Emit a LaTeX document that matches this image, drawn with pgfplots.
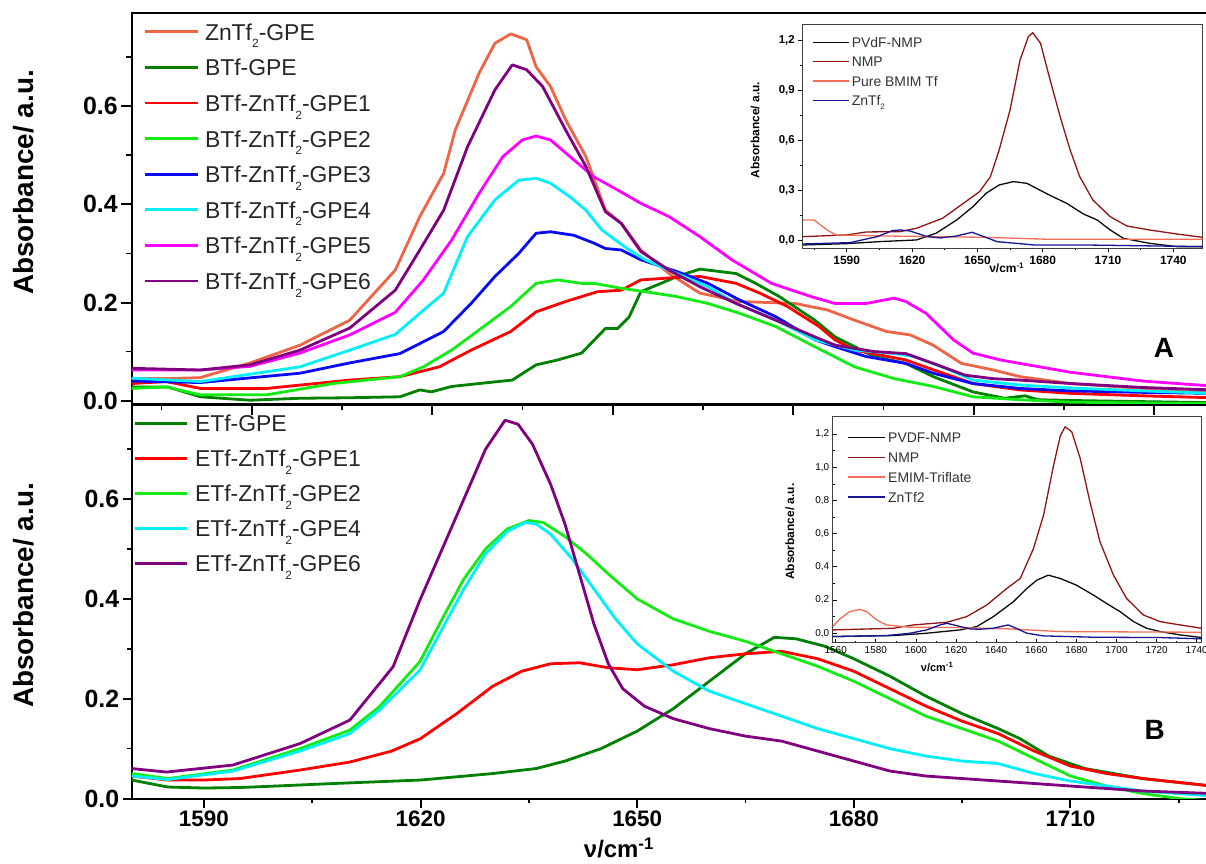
\documentclass[border=0pt]{standalone}
\usepackage{fontspec}
\setmainfont{Liberation Sans}
\usepackage{pgfplots}
\pgfplotsset{compat=1.18}
\definecolor{cOr}{RGB}{238,100,68}
\definecolor{cDg}{RGB}{0,128,0}
\definecolor{cRd}{RGB}{255,0,0}
\definecolor{cLg}{RGB}{20,235,20}
\definecolor{cBl}{RGB}{10,10,245}
\definecolor{cCy}{RGB}{0,240,250}
\definecolor{cMg}{RGB}{255,0,255}
\definecolor{cPu}{RGB}{128,0,128}
\definecolor{iBk}{RGB}{10,10,10}
\definecolor{iNm}{RGB}{145,20,20}
\definecolor{iSa}{RGB}{240,110,85}
\definecolor{iNv}{RGB}{20,20,150}
\newcommand\sub[1]{\raisebox{-0.33em}{\fontsize{12}{12}\selectfont #1}}
\newcommand\isub[1]{\raisebox{-0.3em}{\fontsize{8}{8}\selectfont #1}}
\pgfplotsset{
  /pgf/number format/1000 sep={},
  mainax/.style={
    scale only axis, width=1080.3bp, xmin=1580, xmax=1729.6,
    axis line style={line width=2bp},
    tick align=outside, tick pos=left,
    major tick style={line width=2bp, black},
    minor tick style={line width=1.6bp, black},
    ytick={0,0.2,0.4,0.6}, minor ytick={0.1,0.3,0.5,0.7},
    /pgf/number format/assume math mode=true,
    yticklabel style={font=\bfseries\fontsize{25}{25}\selectfont,
      /pgf/number format/fixed, /pgf/number format/fixed zerofill,
      /pgf/number format/precision=1},
    xticklabel style={font=\bfseries\fontsize{22.5}{22.5}\selectfont},
    every axis plot/.append style={line width=2.8bp, line join=round, no markers},
    legend cell align=left,
    ylabel={Absorbance/ a.u.},
  },
  inax/.style={
    scale only axis, axis background/.style={fill=white},
    axis line style={line width=0.8bp, black!75},
    tick pos=left,
    major tick length=4bp, minor tick length=2bp,
    major tick style={line width=0.8bp, black},
    minor tick style={line width=0.6bp, black},
    /pgf/number format/assume math mode=true,
    every axis plot/.append style={line width=1.3bp, line join=round, no markers},
    legend cell align=left,
  }
}
\begin{document}
\begin{tikzpicture}
\useasboundingbox (0bp,0bp) rectangle (1206bp,864bp);
% ---------------- Panel A ----------------
\begin{axis}[mainax,
  at={(131.7bp,459.5bp)}, anchor=south west, height=391.5bp,
  ymin=-0.0077, ymax=0.7896,
  xtick={1596.6,1621.6,1646.6,1671.6,1696.6,1721.6},
  minor xtick={1584.1,1609.1,1634.1,1659.1,1684.1,1709.1},
  xticklabels={},
  major tick length=10.5bp, minor tick length=6bp,
  ylabel style={font=\bfseries\fontsize{28}{28}\selectfont, at={(axis description cs:-0.0997,0.567)}, anchor=center},
  legend style={at={(axis description cs:0.01046,0.9793)}, anchor=north west, draw=none, fill=none,
    inner sep=0pt, font=\fontsize{23}{23}\selectfont, text=black!85, row sep=8.6bp, column sep=4bp,
    nodes={inner sep=2bp, text height=17bp, text depth=6bp}},
  legend image code/.code={\draw[#1, line width=2.8bp] (0bp,2.9bp) -- (53bp,2.9bp);},
]
\addplot[cOr] coordinates {(1580,0.045)(1585,0.045)(1589.5,0.047)(1596.4,0.077)(1603.3,0.113)(1610.2,0.164)(1616.5,0.266)(1619.9,0.375)(1623.2,0.463)(1624.8,0.551)(1628.1,0.667)(1630.3,0.728)(1632.5,0.747)(1634.7,0.735)(1636,0.68)(1638,0.64)(1640.1,0.572)(1642.9,0.497)(1645.6,0.388)(1647.8,0.361)(1650.5,0.307)(1654.4,0.259)(1658.7,0.219)(1664.2,0.202)(1671.9,0.198)(1676.3,0.185)(1680.1,0.164)(1684.5,0.141)(1687.8,0.134)(1691,0.113)(1694.9,0.076)(1699.2,0.063)(1703,0.049)(1710,0.035)(1720,0.025)(1729.6,0.018)};
\addlegendentry{ZnTf\sub{2}-GPE}
\addplot[cDg] coordinates {(1580,0.028)(1585,0.028)(1589.5,0.008)(1596.4,0.001)(1603.3,0.005)(1610,0.006)(1617.15,0.008)(1619.9,0.022)(1621.5,0.018)(1624.3,0.029)(1628.1,0.035)(1632.7,0.042)(1636,0.073)(1639,0.083)(1642.3,0.097)(1645.6,0.147)(1647.3,0.147)(1648.9,0.171)(1650.5,0.222)(1653.3,0.239)(1655.5,0.253)(1658.7,0.268)(1663.7,0.259)(1666.4,0.239)(1669.7,0.212)(1674.6,0.164)(1677.4,0.13)(1682.8,0.09)(1687.2,0.076)(1691,0.049)(1696.5,0.018)(1700.9,0.005)(1703.7,0.01)(1705.5,0.002)(1712,0.0)(1729.6,-0.004)};
\addlegendentry{BTf-GPE}
\addplot[cRd] coordinates {(1580,0.035)(1584.8,0.039)(1589.5,0.025)(1598.7,0.025)(1610.2,0.042)(1617.15,0.049)(1622.6,0.069)(1627,0.103)(1632.5,0.141)(1636,0.181)(1640.1,0.202)(1644.5,0.222)(1647.8,0.225)(1650.5,0.246)(1655.5,0.251)(1658.7,0.253)(1663.7,0.239)(1667,0.219)(1670.8,0.192)(1675.2,0.151)(1677.4,0.124)(1680.1,0.103)(1687.2,0.083)(1691,0.063)(1696.5,0.035)(1703,0.022)(1710,0.015)(1720,0.01)(1729.6,0.006)};
\addlegendentry{BTf-ZnTf\sub{2}-GPE1}
\addplot[cLg] coordinates {(1580,0.025)(1584.8,0.028)(1589.5,0.012)(1598.7,0.012)(1607.9,0.035)(1617.15,0.049)(1620.4,0.069)(1624.3,0.103)(1628.1,0.144)(1632.5,0.192)(1636,0.239)(1639,0.246)(1642.3,0.239)(1644,0.239)(1647.8,0.229)(1651.1,0.222)(1655.5,0.212)(1659.8,0.198)(1664.2,0.178)(1669.2,0.151)(1674.6,0.11)(1680.1,0.069)(1685.6,0.045)(1691,0.029)(1696.5,0.008)(1703,0.002)(1710,-0.003)(1729.6,-0.006)};
\addlegendentry{BTf-ZnTf\sub{2}-GPE2}
\addplot[cBl] coordinates {(1580,0.04)(1589.5,0.037)(1603.3,0.056)(1610.2,0.077)(1617.15,0.096)(1623.2,0.141)(1627,0.198)(1630.3,0.253)(1633.6,0.3)(1636,0.341)(1638,0.344)(1641.2,0.337)(1644,0.321)(1645.6,0.31)(1647.8,0.307)(1650.5,0.287)(1655.5,0.263)(1659.8,0.239)(1664.2,0.205)(1669.2,0.171)(1674.6,0.124)(1677.4,0.11)(1681.7,0.09)(1687.2,0.076)(1691,0.056)(1696.5,0.035)(1703,0.025)(1710,0.02)(1720,0.017)(1729.6,0.015)};
\addlegendentry{BTf-ZnTf\sub{2}-GPE3}
\addplot[cCy] coordinates {(1580,0.046)(1589.5,0.039)(1603.3,0.069)(1610.2,0.103)(1616.5,0.135)(1619.9,0.178)(1623.2,0.219)(1626.5,0.334)(1630.3,0.409)(1633.6,0.449)(1636,0.453)(1638,0.443)(1640.7,0.415)(1642.9,0.388)(1645.1,0.348)(1647,0.327)(1648.9,0.307)(1651.1,0.287)(1655.5,0.259)(1659.8,0.232)(1663.7,0.198)(1669.2,0.164)(1674.6,0.124)(1680.1,0.103)(1685.6,0.096)(1688.3,0.09)(1692.7,0.066)(1696.5,0.042)(1703,0.032)(1710,0.026)(1720,0.02)(1729.6,0.015)};
\addlegendentry{BTf-ZnTf\sub{2}-GPE4}
\addplot[cMg] coordinates {(1580,0.0625)(1589.5,0.0625)(1596.4,0.07)(1603.3,0.097)(1610.2,0.134)(1616.5,0.18)(1620.4,0.246)(1624.3,0.327)(1628.1,0.422)(1631.4,0.497)(1634.1,0.531)(1636,0.539)(1638,0.531)(1640.7,0.497)(1644,0.456)(1647.3,0.429)(1650.5,0.402)(1654.4,0.375)(1658.7,0.334)(1663.1,0.287)(1668.6,0.239)(1674.1,0.212)(1677.4,0.198)(1681.7,0.198)(1685.6,0.209)(1687.2,0.202)(1690,0.178)(1693.8,0.124)(1696.5,0.097)(1700.3,0.083)(1703,0.076)(1710,0.058)(1720,0.04)(1729.6,0.03)};
\addlegendentry{BTf-ZnTf\sub{2}-GPE5}
\addplot[cPu] coordinates {(1580,0.066)(1589.5,0.0625)(1596.4,0.073)(1603.3,0.103)(1610.2,0.148)(1616.5,0.225)(1619.9,0.307)(1623.2,0.388)(1626.5,0.517)(1630.3,0.633)(1632.7,0.684)(1634.7,0.674)(1636.9,0.64)(1640.1,0.551)(1642.9,0.477)(1645.6,0.385)(1647.8,0.361)(1650.5,0.304)(1654.4,0.266)(1658.7,0.232)(1663.7,0.198)(1669.2,0.164)(1674.6,0.13)(1677.4,0.113)(1682.8,0.1)(1687.2,0.096)(1691,0.076)(1695.4,0.052)(1699.2,0.045)(1703,0.042)(1710,0.035)(1720,0.027)(1729.6,0.022)};
\addlegendentry{BTf-ZnTf\sub{2}-GPE6}
\node[font=\bfseries\fontsize{28}{28}\selectfont] at (axis description cs:0.9556,0.1443) {A};
\end{axis}
% ---------------- Panel B ----------------
\begin{axis}[mainax,
  at={(131.7bp,65.5bp)}, anchor=south west, height=393.5bp,
  ymin=0, ymax=0.7885,
  xtick={1590,1620,1650,1680,1710},
  minor xtick={1605,1635,1665,1695,1725},
  major tick length=9bp, minor tick length=4.5bp,
  xlabel={\bfseries ν/cm\textsuperscript{-1}},
  xlabel style={font=\fontsize{24}{24}\selectfont, at={(axis description cs:0.451,-0.1512)}, anchor=base},
  ylabel style={font=\bfseries\fontsize{28}{28}\selectfont, at={(axis description cs:-0.0997,0.516)}, anchor=center},
  legend style={at={(axis description cs:0.0012,0.9804)}, anchor=north west, draw=none, fill=none,
    inner sep=0pt, font=\fontsize{23}{23}\selectfont, text=black!85, row sep=8bp, column sep=5bp,
    nodes={inner sep=2bp, text height=17bp, text depth=6bp}},
  legend image code/.code={\draw[#1, line width=2.8bp] (0bp,2.9bp) -- (52bp,2.9bp);},
]
\addplot[cDg] coordinates {(1580,0.037)(1585,0.023)(1590,0.021)(1595,0.022)(1600,0.025)(1607.9,0.03)(1620,0.037)(1630,0.05)(1636,0.06)(1640,0.075)(1645,0.1)(1650,0.135)(1655,0.18)(1660,0.235)(1665,0.29)(1669,0.323)(1672,0.32)(1676,0.305)(1680,0.28)(1685,0.245)(1690,0.205)(1695,0.17)(1700,0.14)(1703,0.12)(1707,0.085)(1712,0.06)(1720,0.04)(1729.6,0.025)};
\addlegendentry{ETf-GPE}
\addplot[cRd] coordinates {(1580,0.045)(1585,0.037)(1590,0.037)(1595,0.04)(1603.3,0.057)(1610.2,0.073)(1616,0.095)(1620,0.12)(1625,0.17)(1630,0.225)(1634,0.255)(1638,0.27)(1642,0.272)(1646,0.262)(1650,0.258)(1655,0.268)(1660,0.282)(1665,0.29)(1670,0.295)(1675,0.28)(1680,0.255)(1685,0.22)(1690,0.185)(1695,0.155)(1700,0.13)(1705,0.095)(1710,0.065)(1715,0.05)(1720,0.04)(1729.6,0.025)};
\addlegendentry{ETf-ZnTf\sub{2}-GPE1}
\addplot[cLg] coordinates {(1580,0.05)(1585,0.04)(1594,0.057)(1603.3,0.1)(1610.2,0.137)(1614.3,0.184)(1619.9,0.274)(1623,0.36)(1626,0.44)(1629,0.5)(1632,0.54)(1635,0.557)(1637,0.553)(1640,0.525)(1643,0.49)(1646,0.45)(1650,0.4)(1655,0.36)(1660,0.335)(1665,0.315)(1670,0.29)(1675,0.265)(1680,0.235)(1685,0.2)(1690,0.165)(1695,0.14)(1700,0.115)(1705,0.08)(1710,0.045)(1715,0.025)(1720,0.01)(1725,0.0)(1729.6,-0.005)};
\addlegendentry{ETf-ZnTf\sub{2}-GPE2}
\addplot[cCy] coordinates {(1580,0.045)(1585,0.038)(1594,0.055)(1603.3,0.095)(1610.2,0.13)(1614.3,0.177)(1619.9,0.257)(1623,0.34)(1626,0.42)(1629,0.49)(1632,0.535)(1634.5,0.553)(1636,0.55)(1638,0.53)(1641,0.48)(1644,0.42)(1647,0.36)(1650,0.31)(1655,0.255)(1660,0.215)(1665,0.19)(1670,0.165)(1675,0.14)(1680,0.12)(1685,0.1)(1690,0.085)(1695,0.075)(1700,0.07)(1705,0.05)(1710,0.035)(1715,0.025)(1720,0.015)(1729.6,0.005)};
\addlegendentry{ETf-ZnTf\sub{2}-GPE4}
\addplot[cPu] coordinates {(1580,0.06)(1584.8,0.053)(1594,0.067)(1603.3,0.11)(1610.2,0.157)(1616.2,0.264)(1619.9,0.397)(1623,0.5)(1626,0.6)(1629,0.7)(1631.7,0.758)(1633.5,0.75)(1635.5,0.71)(1638,0.63)(1640,0.55)(1642,0.45)(1644,0.35)(1646,0.27)(1648,0.22)(1651,0.185)(1655,0.16)(1660,0.14)(1665,0.125)(1670,0.115)(1675,0.095)(1680,0.075)(1685,0.055)(1690,0.045)(1700,0.035)(1710,0.025)(1720,0.015)(1729.6,0.01)};
\addlegendentry{ETf-ZnTf\sub{2}-GPE6}
\node[font=\bfseries\fontsize{28}{28}\selectfont] at (axis description cs:0.947,0.174) {B};
\end{axis}
% ---------------- Inset A ----------------
\begin{axis}[inax,
  at={(802.3bp,615.7bp)}, anchor=south west, width=400bp, height=224.3bp,
  xmin=1569.6, xmax=1753.3, ymin=-0.046, ymax=1.30,
  tick align=outside,
  xtick={1590,1620,1650,1680,1710,1740}, minor xtick={1575,1605,1635,1665,1695,1725},
  ytick={0,0.3,0.6,0.9,1.2}, minor ytick={0.15,0.45,0.75,1.05},
  xticklabel style={font=\bfseries\fontsize{12}{12}\selectfont},
  yticklabel style={font=\bfseries\fontsize{11.5}{11.5}\selectfont,
    /pgf/number format/fixed, /pgf/number format/fixed zerofill,
    /pgf/number format/precision=1, /pgf/number format/use comma},
  xlabel={\bfseries ν/cm\textsuperscript{-1}},
  xlabel style={font=\fontsize{12}{12}\selectfont, at={(axis description cs:0.511,-0.088)}, anchor=center},
  ylabel={\bfseries Absorbance/ a.u.},
  ylabel style={font=\fontsize{12}{12}\selectfont, at={(axis description cs:-0.118,0.527)}, anchor=center},
  legend style={at={(axis description cs:0.0235,0.947)}, anchor=north west, draw=none, fill=none,
    inner sep=0pt, font=\fontsize{14}{14}\selectfont, text=black!80, row sep=3.8bp, column sep=1bp,
    nodes={inner sep=1bp, text height=10.5bp, text depth=3bp}},
  legend image code/.code={\draw[#1, line width=1.3bp] (0bp,1.35bp) -- (36.6bp,1.35bp);},
]
\addplot[iBk] coordinates {(1570,-0.026)(1590,-0.018)(1605,-0.006)(1622,0.004)(1631,0.044)(1640.5,0.124)(1648,0.204)(1654,0.284)(1660,0.334)(1666.5,0.354)(1672.7,0.344)(1683,0.274)(1691,0.224)(1698.7,0.16)(1705,0.124)(1711,0.064)(1717,0.014)(1729,-0.016)(1741.5,-0.036)(1753.3,-0.036)};
\addlegendentry{PVdF-NMP}
\addplot[iNm] coordinates {(1570,0.024)(1590,0.034)(1599,0.052)(1614.5,0.054)(1622,0.074)(1634,0.134)(1643.6,0.224)(1651,0.294)(1656,0.384)(1660,0.544)(1665,0.784)(1669.6,1.084)(1673.4,1.224)(1675.4,1.248)(1679,1.184)(1683,0.984)(1688,0.744)(1692.6,0.544)(1697,0.384)(1703,0.244)(1711,0.144)(1718.6,0.088)(1729,0.064)(1741.5,0.04)(1753.3,0.02)};
\addlegendentry{NMP}
\addplot[iSa] coordinates {(1570,0.124)(1575,0.124)(1581,0.064)(1585,0.034)(1607,0.028)(1653,0.02)(1683,0.008)(1753.3,0.008)};
\addlegendentry{Pure BMIM Tf}
\addplot[iNv] coordinates {(1570,-0.02)(1591.5,-0.012)(1604,0.024)(1611,0.06)(1614.5,0.064)(1619,0.058)(1627,0.024)(1633,0.016)(1640.5,0.028)(1647.5,0.05)(1653,0.024)(1659,-0.006)(1676,-0.026)(1698.7,-0.026)(1753.3,-0.036)};
\addlegendentry{ZnTf\isub{2}}
\end{axis}
% ---------------- Inset B ----------------
\begin{axis}[inax,
  at={(832.7bp,221.3bp)}, anchor=south west, width=369bp, height=226bp,
  xmin=1558.5, xmax=1742.5, ymin=-0.057, ymax=1.305,
  tick align=inside,
  xtick={1560,1580,1600,1620,1640,1660,1680,1700,1720,1740}, minor xtick={1570,1590,1610,1630,1650,1670,1690,1710,1730},
  ytick={0,0.2,0.4,0.6,0.8,1.0,1.2}, minor ytick={0.1,0.3,0.5,0.7,0.9,1.1},
  xticklabel style={font=\fontsize{10}{10}\selectfont},
  yticklabel style={font=\fontsize{10}{10}\selectfont,
    /pgf/number format/fixed, /pgf/number format/fixed zerofill,
    /pgf/number format/precision=1, /pgf/number format/use comma},
  xlabel={\bfseries ν/cm\textsuperscript{-1}},
  xlabel style={font=\fontsize{11}{11}\selectfont, at={(axis description cs:0.283,-0.1075)}, anchor=center},
  ylabel={\bfseries Absorbance/ a.u.},
  ylabel style={font=\fontsize{12}{12}\selectfont, at={(axis description cs:-0.1157,0.491)}, anchor=center},
  legend style={at={(axis description cs:0.0396,0.937)}, anchor=north west, draw=none, fill=none,
    inner sep=0pt, font=\fontsize{14}{14}\selectfont, text=black!80, row sep=4.3bp, column sep=1.7bp,
    nodes={inner sep=1bp, text height=10.5bp, text depth=3bp}},
  legend image code/.code={\draw[#1, line width=1.3bp] (0bp,1.35bp) -- (36.7bp,1.35bp);},
]
\addplot[iBk] coordinates {(1558.5,-0.02)(1588.8,-0.014)(1605.4,0.0)(1622,0.02)(1630.3,0.04)(1638.6,0.1)(1648.6,0.19)(1655.3,0.27)(1660.3,0.32)(1666,0.35)(1672,0.33)(1680,0.29)(1688.5,0.23)(1695,0.18)(1701.8,0.13)(1708.5,0.07)(1715,0.03)(1721.8,0.01)(1731.7,-0.01)(1742.5,-0.026)};
\addlegendentry{PVDF-NMP}
\addplot[iNm] coordinates {(1558.5,0.02)(1588.8,0.03)(1598.7,0.05)(1615.4,0.066)(1625.3,0.1)(1635.3,0.17)(1645.3,0.27)(1652,0.33)(1658.6,0.51)(1663.6,0.71)(1668.6,1.01)(1672,1.19)(1674.4,1.244)(1677.7,1.214)(1681.9,1.054)(1686.8,0.79)(1691.8,0.55)(1698.5,0.35)(1705,0.21)(1713.4,0.11)(1721.8,0.07)(1731.7,0.05)(1742.5,0.03)};
\addlegendentry{NMP}
\addplot[iSa] coordinates {(1558.5,0.04)(1562,0.086)(1567,0.13)(1572,0.144)(1575.5,0.13)(1580.4,0.08)(1585.4,0.05)(1597,0.036)(1622,0.034)(1647,0.026)(1672,0.01)(1742.5,0.006)};
\addlegendentry{EMIM-Triflate}
\addplot[iNv] coordinates {(1558.5,-0.02)(1585.4,-0.014)(1597,0.0)(1605.4,0.02)(1612,0.05)(1615.4,0.06)(1620.3,0.046)(1627,0.026)(1632,0.024)(1638.6,0.03)(1646,0.05)(1650,0.03)(1655.3,0.0)(1663.6,-0.016)(1688.5,-0.024)(1721.8,-0.026)(1742.5,-0.034)};
\addlegendentry{ZnTf2}
\end{axis}
\end{tikzpicture}
\end{document}
